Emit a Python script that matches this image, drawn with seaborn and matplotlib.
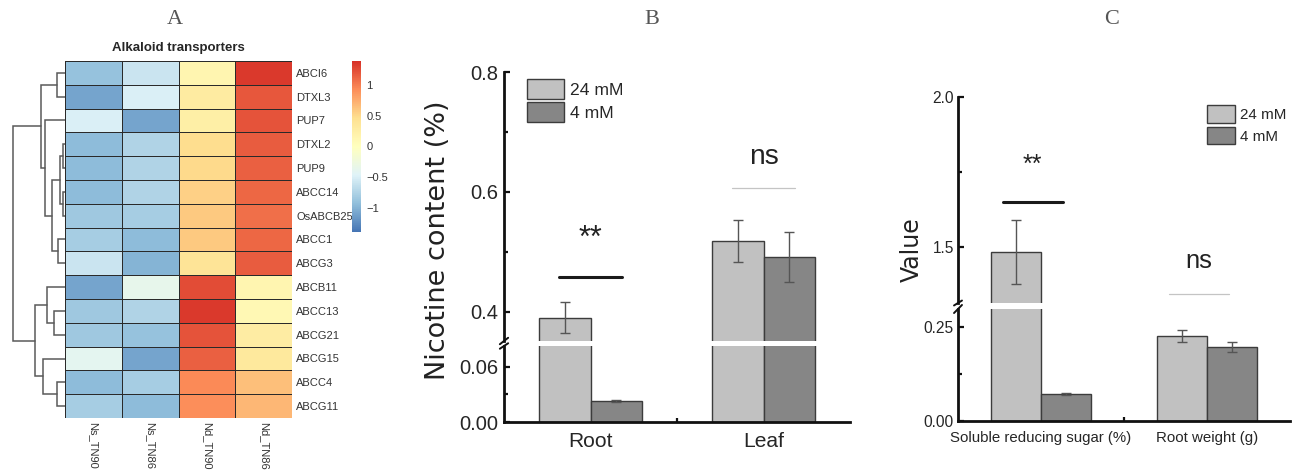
import matplotlib
matplotlib.use("Agg")
import matplotlib.pyplot as plt
import seaborn as sns
import pandas as pd
from matplotlib import font_manager
from matplotlib.colors import LinearSegmentedColormap

# ---- panel A data ----
genes = ["ABCI6", "DTXL3", "PUP7", "DTXL2", "PUP9", "ABCC14", "OsABCB25", "ABCC1",
         "ABCG3", "ABCB11", "ABCC13", "ABCG21", "ABCG15", "ABCC4", "ABCG11"]
samples = ["Ns_TN90", "Ns_TN86", "Nd_TN90", "Nd_TN86"]
zscores = [
    [-0.90, -0.60, 0.15, 1.35],
    [-1.10, -0.50, 0.30, 1.20],
    [-0.50, -1.10, 0.25, 1.22],
    [-0.95, -0.75, 0.48, 1.18],
    [-0.95, -0.75, 0.50, 1.15],
    [-0.95, -0.75, 0.55, 1.12],
    [-0.85, -0.80, 0.60, 1.08],
    [-0.80, -0.95, 0.60, 1.12],
    [-0.60, -1.00, 0.40, 1.18],
    [-1.10, -0.35, 1.25, 0.15],
    [-0.85, -0.75, 1.35, 0.10],
    [-0.85, -0.90, 1.22, 0.28],
    [-0.40, -1.10, 1.15, 0.33],
    [-0.95, -0.80, 0.95, 0.65],
    [-0.80, -0.95, 0.92, 0.70],
]
cbar_ticks = [-1, -0.5, 0, 0.5, 1]
cbar_labels = ["\u22121", "\u22120.5", "0", "0.5", "1"]
# row clustering: (left, right, merge height)
gene_tree = (
    (("ABCI6", "DTXL3", 8),
     ("PUP7", ((("DTXL2", "PUP9", 2), ("ABCC14", "OsABCB25", 2), 5),
               ("ABCC1", "ABCG3", 7), 13), 20), 24),
    (("ABCB11", ("ABCC13", "ABCG21", 11), 18),
     ("ABCG15", ("ABCC4", "ABCG11", 8), 22), 30),
    52)

# ---- panel B data ----
treatments = ["24 mM", "4 mM"]
tissues = ["Root", "Leaf"]
nicotine_24 = [0.390, 0.518]
nicotine_4 = [0.023, 0.491]
nicotine_24_err = [0.026, 0.035]
nicotine_4_err = [0.001, 0.042]
nicotine_sig = ["**", "ns"]
nicotine_sig_y = [0.457, 0.607]

# ---- panel C data ----
traits = ["Soluble reducing sugar (%)", "Root weight (g)"]
trait_24 = [1.483, 0.226]
trait_4 = [0.072, 0.197]
trait_24_err = [0.108, 0.017]
trait_4_err = [0.003, 0.014]
trait_sig = ["**", "ns"]
trait_sig_y = [1.65, 1.343]

sns.set_style("ticks")
plt.rcParams["font.family"] = ["Liberation Sans", "DejaVu Sans"]
names = {f.name for f in font_manager.fontManager.ttflist}
has_narrow = "Liberation Sans Narrow" in names
narrow = "Liberation Sans Narrow" if has_narrow else "Liberation Sans"
nscale = 1.0 if has_narrow else 0.84

W, H = 1298, 470
fig = plt.figure(figsize=(W / 100, H / 100), dpi=100)


def box(x0, y0, x1, y1):
    # pixel box (top-left origin) -> figure fraction rect
    return [x0 / W, 1 - y1 / H, (x1 - x0) / W, (y1 - y0) / H]


# ---------------- A: heatmap + dendrogram ----------------
ax_hm = fig.add_axes(box(65, 61, 292, 418))
cax = fig.add_axes(box(352, 61, 361, 232))
ax_dn = fig.add_axes(box(10, 61, 65, 418))

# pheatmap default palette: reversed RdYlBu (7 colours)
ph_cmap = LinearSegmentedColormap.from_list(
    "ph", ["#4575B4", "#91BFDB", "#E0F3F8", "#FFFFBF", "#FEE090", "#FC8D59", "#D73027"])

hm = pd.DataFrame(zscores, index=genes, columns=samples)
sns.heatmap(hm, cmap=ph_cmap, vmin=-1.4, vmax=1.4, linewidths=0.7,
            linecolor="#2a2a2a", cbar_ax=cax, ax=ax_hm)
ax_hm.yaxis.tick_right()
ax_hm.set_yticklabels(genes, rotation=0, fontsize=8, color="#333333")
ax_hm.set_xticklabels(samples, rotation=270, fontsize=8, color="#333333")
ax_hm.tick_params(length=0, pad=3)
ax_hm.set_xlabel("")
ax_hm.set_ylabel("")
ax_hm.set_title("Alkaloid transporters", fontsize=9.5, fontweight="bold", pad=7)

cbar = ax_hm.collections[0].colorbar
cbar.set_ticks(cbar_ticks)
cbar.set_ticklabels(cbar_labels)
cbar.ax.tick_params(length=0, labelsize=8, labelcolor="#333333", pad=4)
cbar.outline.set_visible(False)

row_pos = {g: i + 0.5 for i, g in enumerate(genes)}


def draw_tree(ax, node):
    if isinstance(node, str):
        return row_pos[node], 0
    left, right, h = node
    y1, h1 = draw_tree(ax, left)
    y2, h2 = draw_tree(ax, right)
    ax.plot([h1, h, h, h2], [y1, y1, y2, y2], color="#5a5a5a", lw=1.1,
            solid_joinstyle="miter")
    return (y1 + y2) / 2, h


draw_tree(ax_dn, gene_tree)
ax_dn.set_xlim(55, 0)
ax_dn.set_ylim(len(genes), 0)
ax_dn.axis("off")


# ---------------- B / C: broken-axis bar charts ----------------
def bar_panel(ax_top, ax_bot, cats, v24, v4, e24, e4, legend_kw):
    df = pd.DataFrame({"cat": cats * 2,
                       "treat": [treatments[0]] * 2 + [treatments[1]] * 2,
                       "val": v24 + v4})
    for ax in (ax_top, ax_bot):
        sns.barplot(data=df, x="cat", y="val", hue="treat",
                    palette=["#c1c1c1", "#868686"], errorbar=None, width=0.6,
                    edgecolor="#3c3c3c", linewidth=1.0, legend=(ax is ax_top), ax=ax)
        bars = list(ax.containers)
        for cont, errs in zip(bars, [e24, e4]):
            xs = [b.get_x() + b.get_width() / 2 for b in cont]
            hs = [b.get_height() for b in cont]
            ax.errorbar(xs, hs, yerr=errs, fmt="none", ecolor="#555555",
                        elinewidth=1.0, capsize=3.5, capthick=1.0)
        ax.set_xlim(-0.5, 1.5)
        ax.set_xlabel("")
        ax.set_ylabel("")
        for s in ("top", "right"):
            ax.spines[s].set_visible(False)
        for s in ("left", "bottom"):
            ax.spines[s].set_linewidth(2.0)
            ax.spines[s].set_color("#111111")
        ax.tick_params(axis="both", which="both", direction="in", width=1.6,
                       color="#111111")
        ax.tick_params(which="major", length=4)
        ax.tick_params(which="minor", length=3)
    ax_top.spines["bottom"].set_visible(False)
    ax_top.tick_params(axis="x", which="both", bottom=False, labelbottom=False)
    ax_bot.set_xticks([0, 1])
    ax_bot.set_xticks([0.5], minor=True)
    sns.move_legend(ax_top, title=None, frameon=False, **legend_kw)


def break_marks(ax_top, ax_bot):
    # small "//" on the left spine across the gap
    for ax, yv, k in ((ax_top, 0.0, 1), (ax_bot, 1.0, 3)):
        ax.plot([-0.012, 0.012], [yv - 0.012 * k, yv + 0.012 * k],
                transform=ax.transAxes, color="#111111", lw=1.4, clip_on=False)


def sig_marks(ax, labels, ys, shift, star_size, ns_size, gap_star, gap_ns):
    for i, (lab, yv) in enumerate(zip(labels, ys)):
        x0 = i + shift
        if lab == "ns":
            ax.plot([x0 - 0.18, x0 + 0.18], [yv, yv], color="#c4c4c4", lw=0.9)
            ax.annotate(lab, (x0, yv), xytext=(0, gap_ns), textcoords="offset points",
                        ha="center", va="center", fontsize=ns_size, family=narrow,
                        color="#222222")
        else:
            ax.plot([x0 - 0.18, x0 + 0.18], [yv, yv], color="#1a1a1a", lw=2.2)
            ax.annotate(lab, (x0, yv), xytext=(0, gap_star), textcoords="offset points",
                        ha="center", va="center", fontsize=star_size, color="#222222")


# panel B
axB_top = fig.add_axes(box(504, 72, 850, 341))
axB_bot = fig.add_axes(box(504, 346, 850, 422))
bar_panel(axB_top, axB_bot, tissues, nicotine_24, nicotine_4,
          nicotine_24_err, nicotine_4_err,
          dict(loc="upper left", bbox_to_anchor=(0.066, 0.975), borderaxespad=0,
               borderpad=0, prop={"family": narrow, "size": 15 * nscale},
               handlelength=1.8 / nscale, handleheight=1.2 / nscale,
               labelspacing=0.15, handletextpad=0.3))
axB_top.set_ylim(0.351, 0.8)
axB_top.set_yticks([0.4, 0.6, 0.8], ["0.4", "0.6", "0.8"])
axB_top.set_yticks([0.5, 0.7], minor=True)
axB_bot.set_ylim(0, 0.0825)
axB_bot.set_yticks([0, 0.06], ["0.00", "0.06"])
axB_bot.set_yticks([0.03], minor=True)
axB_bot.set_xticklabels(tissues, family=narrow, fontsize=18 * nscale)
for ax in (axB_top, axB_bot):
    ax.tick_params(axis="y", labelsize=14.5, pad=4)
axB_bot.tick_params(axis="x", pad=7)
break_marks(axB_top, axB_bot)
sig_marks(axB_top, nicotine_sig, nicotine_sig_y, 0.0, 22, 24 * nscale, 28, 22)
fig.text(438 / W, 1 - 240 / H, "Nicotine content (%)", rotation=90, ha="center",
         va="center", fontsize=19.5, family="DejaVu Sans", color="#222222")

# panel C
axC_top = fig.add_axes(box(958, 97, 1290, 303))
axC_bot = fig.add_axes(box(958, 309, 1290, 421))
bar_panel(axC_top, axC_bot, traits, trait_24, trait_4, trait_24_err, trait_4_err,
          dict(loc="upper left", bbox_to_anchor=(0.75, 0.96), borderaxespad=0,
               borderpad=0, prop={"family": narrow, "size": 13 * nscale},
               handlelength=1.55 / nscale, handleheight=1.2 / nscale,
               labelspacing=0.2 / nscale, handletextpad=0.3))
axC_top.set_ylim(1.313, 2.0)
axC_top.set_yticks([1.5, 2.0], ["1.5", "2.0"])
axC_top.set_yticks([1.75], minor=True)
axC_bot.set_ylim(0, 0.298)
axC_bot.set_yticks([0, 0.25], ["0.00", "0.25"])
axC_bot.set_yticks([0.125], minor=True)
axC_bot.set_xticklabels(traits, family=narrow, fontsize=13.5 * nscale * 0.95)
for ax in (axC_top, axC_bot):
    ax.tick_params(axis="y", labelsize=14 * nscale * 0.95, pad=3)
    for t in ax.get_yticklabels():
        t.set_family(narrow)
axC_bot.tick_params(axis="x", pad=7)
break_marks(axC_top, axC_bot)
sig_marks(axC_top, trait_sig, trait_sig_y, -0.05, 18, 22 * nscale, 27, 24)
fig.text(912 / W, 1 - 250 / H, "Value", rotation=90, ha="center", va="center",
         fontsize=17, family="DejaVu Sans", color="#222222")

# panel letters
for lab, px in (("A", 175), ("B", 652), ("C", 1112)):
    fig.text(px / W, 1 - 20 / H, lab, ha="center", va="center", fontsize=16,
             family="Liberation Serif", color="#555555")

fig.savefig("out.png", dpi=100)
